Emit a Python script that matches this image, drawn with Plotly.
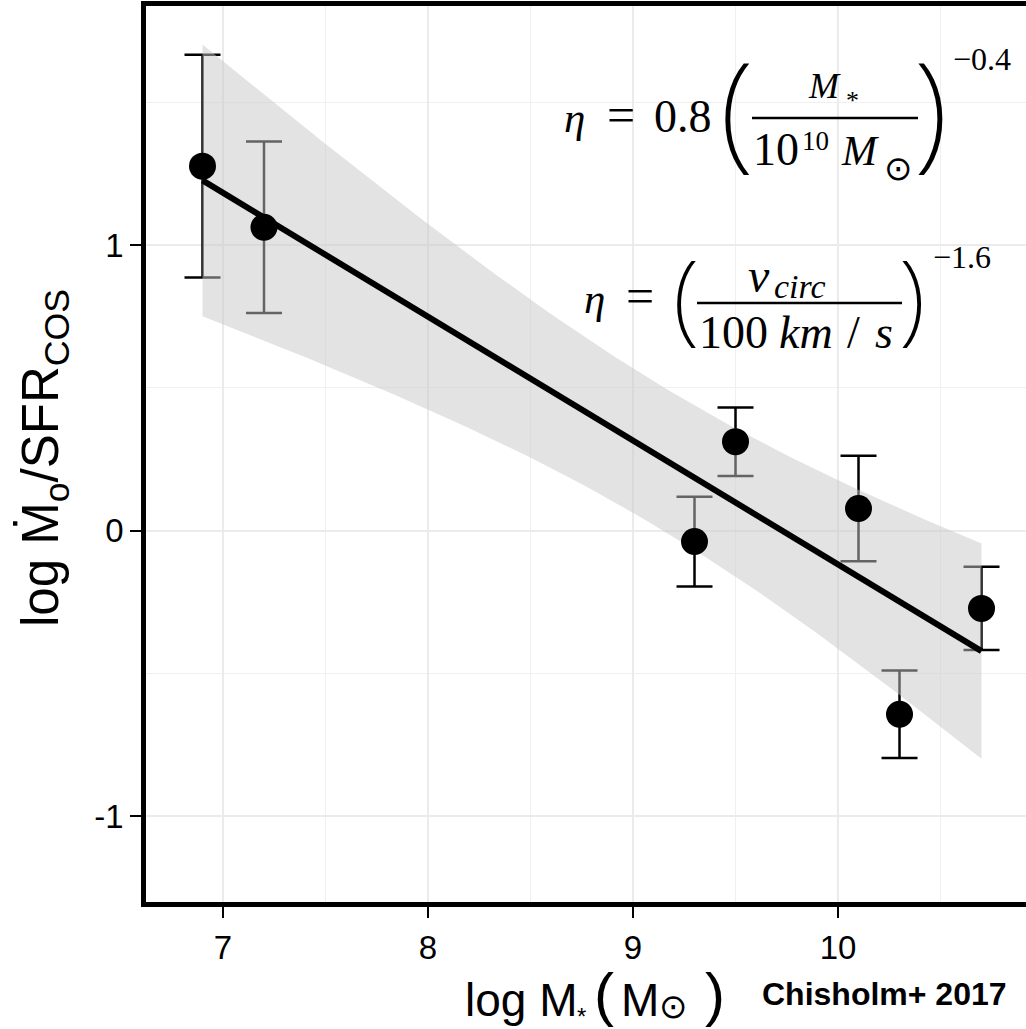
import numpy as np
import plotly.graph_objects as go

# Outflow mass-loading vs. stellar mass
log_mstar = [6.9, 7.2, 9.3, 9.5, 10.1, 10.3, 10.7]
log_eta = [1.277, 1.063, -0.038, 0.312, 0.078, -0.643, -0.272]
eta_err = [0.39, 0.30, 0.157, 0.12, 0.185, 0.153, 0.146]

x_tick_vals = [7, 8, 9, 10]
x_tick_text = ["7", "8", "9", "10"]
y_tick_vals = [-1, 0, 1]
y_tick_text = ["-1", "0", "1"]

# Ordinary least-squares fit with its 95% confidence band
x = np.array(log_mstar)
y = np.array(log_eta)
n = len(x)
xbar = x.mean()
sxx = ((x - xbar) ** 2).sum()
slope = ((x - xbar) * (y - y.mean())).sum() / sxx
intercept = y.mean() - slope * xbar
resid = y - (intercept + slope * x)
s = np.sqrt((resid ** 2).sum() / (n - 2))
t975 = 2.570582  # Student t quantile, n-2 = 5 degrees of freedom
xs = np.linspace(x.min(), x.max(), 80)
fit = intercept + slope * xs
half = t975 * s * np.sqrt(1.0 / n + (xs - xbar) ** 2 / sxx)

W, H = 1026, 1029
L, R, T, B = 146, 0, 6, 127
PW, PH = W - L - R, H - T - B
BOTTOM = H - B

SANS = "Liberation Sans"
SERIF = "Liberation Serif"
SYM = "DejaVu Sans"
THIN = "Noto Sans"


def fx(px):
    return (px - L) / PW


def fy(py):
    return (BOTTOM - py) / PH


fig = go.Figure()

# error bars first so the band tints them
fig.add_trace(go.Scatter(
    x=log_mstar, y=log_eta, mode="markers",
    marker=dict(size=1, color="rgba(0,0,0,0)"),
    error_y=dict(type="data", array=eta_err, color="black", thickness=2.5, width=18),
    hoverinfo="skip", showlegend=False,
))
fig.add_trace(go.Scatter(
    x=np.concatenate([xs, xs[::-1]]),
    y=np.concatenate([fit + half, (fit - half)[::-1]]),
    fill="toself", fillcolor="rgba(200,200,200,0.5)",
    line=dict(width=0), mode="lines", hoverinfo="skip", showlegend=False,
))
fig.add_trace(go.Scatter(
    x=xs, y=fit, mode="lines", line=dict(color="black", width=6),
    hoverinfo="skip", showlegend=False,
))
fig.add_trace(go.Scatter(
    x=log_mstar, y=log_eta, mode="markers",
    marker=dict(size=27, color="black"), showlegend=False,
))

annotations = []


def put(text, px, py, size, family=SERIF, anchor="center", angle=0, weight="normal"):
    annotations.append(dict(
        text=text, x=fx(px), y=fy(py), xref="paper", yref="paper",
        xanchor=anchor, yanchor="middle", showarrow=False, textangle=angle,
        font=dict(family=family, size=size, color="black", weight=weight),
    ))


def on_base(baseline, size, k=0.34):
    return baseline - k * size


def paren(ch, px, center, height):
    size = height / 0.96
    put(ch, px, center - 0.108 * size, size, family=THIN, weight=200)


# eta = 0.8 (M* / 10^10 Msun)^-0.4
put("<i>η</i>", 574, on_base(132, 43), 43)
put("=", 621, on_base(132, 50), 50)
put("0.8", 683, on_base(132, 46), 46)
paren("(", 737, 119, 122)
put("<i>M</i>", 824, on_base(98, 36), 36)
put("*", 852, on_base(109, 26), 26)
put("10", 776, on_base(165, 46), 46)
put("10", 815, on_base(150, 27), 27)
put("<i>M</i>", 860, on_base(165, 42), 42)
put("⊙", 898, 168, 34, family=SYM)
paren(")", 931, 119, 122)
put("−0.4", 982, on_base(70, 32), 32)

# eta = (v_circ / 100 km/s)^-1.6
put("<i>η</i>", 594, on_base(313, 43), 43)
put("=", 640, on_base(313, 50), 50)
paren("(", 686, 304.5, 95)
put("<i>v</i>", 759, on_base(292, 48), 48)
put("<i>circ</i>", 772, on_base(298, 34), 34, anchor="left")
put("100", 733, on_base(348, 46), 46)
put("<i>km</i>", 806, on_base(348, 46), 46)
put("/", 853, on_base(348, 46), 46)
put("<i>s</i>", 884, on_base(348, 46), 46)
paren(")", 912, 304.5, 95)
put("−1.6", 962, on_base(268, 32), 32)

# x-axis title
put("log M", 463, on_base(1016, 46, 0.3465), 46, family=SANS, anchor="left")
put("*", 581, on_base(1025, 24, 0.3465), 24, family=SANS)
put("(", 603.5, 1000 - 0.087 * 60, 60, family=SANS)
put("M", 639.5, on_base(1016, 46, 0.3465), 46, family=SANS)
put("⊙", 673, 1006, 34, family=SYM)
put(")", 714.5, 1000 - 0.087 * 60, 60, family=SANS)

# y-axis title
put("log Ṁ<sub>o</sub>/SFR<sub>COS</sub>", 44, 458, 51, family=SANS, angle=-90)

# credit
put("Chisholm+ 2017", 884.5, on_base(1005, 32, 0.3465), 32, family=SANS, weight="bold")

shapes = [
    dict(type="line", xref="paper", yref="paper", x0=fx(752), x1=fx(918),
         y0=fy(118), y1=fy(118), line=dict(color="black", width=2.7)),
    dict(type="line", xref="paper", yref="paper", x0=fx(697), x1=fx(902),
         y0=fy(303), y1=fy(303), line=dict(color="black", width=2.7)),
]

axis_common = dict(
    ticks="outside", ticklen=11, tickwidth=2, tickcolor="black",
    showline=True, linecolor="black", linewidth=4.5,
    showgrid=True, gridcolor="#ebebeb", gridwidth=1.6, zeroline=False,
    tickfont=dict(family=SANS, size=33, color="black"),
)

fig.update_layout(
    width=W, height=H,
    margin=dict(l=L, r=R, t=T, b=B, pad=0),
    plot_bgcolor="white", paper_bgcolor="white",
    showlegend=False,
    xaxis=dict(range=[6.6244, 10.917], tickvals=x_tick_vals, ticktext=x_tick_text,
               mirror=True, ticklabelstandoff=2,
               minor=dict(dtick=0.5, tick0=0, showgrid=True, gridcolor="#f0f0f0",
                          gridwidth=1.3, ticks=""),
               **axis_common),
    yaxis=dict(range=[-1.3005, 1.838], tickvals=y_tick_vals, ticktext=y_tick_text,
               mirror=False, ticklabelstandoff=0,
               minor=dict(dtick=0.5, tick0=0, showgrid=True, gridcolor="#f0f0f0",
                          gridwidth=1.3, ticks=""),
               **axis_common),
    annotations=annotations,
    shapes=shapes,
)

fig.write_html("out.html")
